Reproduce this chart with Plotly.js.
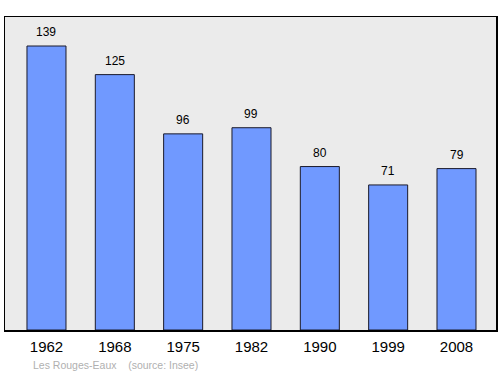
<!DOCTYPE html>
<html><head><meta charset="utf-8">
<script src="https://cdn.plot.ly/plotly-3.0.1.min.js"></script>
<style>html,body{margin:0;padding:0;background:#fff}#c{width:500px;height:374px}</style>
</head><body><div id="c"></div>
<script>
const years = ["1962","1968","1975","1982","1990","1999","2008"];
const population = [139,125,96,99,80,71,79];
const sourceText = "Les Rouges-Eaux    (source: Insee)";

const annotations = years.map((y,i)=>({
  x: i, y: population[i], xref:'x', yref:'y', text: String(population[i]),
  showarrow:false, yanchor:'bottom', yshift:5,
  font:{family:'Liberation Sans, Arial, sans-serif', size:12, color:'#000'}
}));
annotations.push({
  xref:'paper', yref:'paper', x:0.053, y:-0.112, xanchor:'left', yanchor:'middle',
  text: sourceText, showarrow:false,
  font:{family:'Liberation Sans, Arial, sans-serif', size:10.5, color:'#b0b0b0'}
});

Plotly.newPlot('c', [{
  type:'bar', x: years.map((y,i)=>i), y: population, width:0.571,
  marker:{color:'#7099ff', line:{color:'#1a1a2a', width:1}},
  hoverinfo:'none'
}], {
  width:500, height:374,
  margin:{l:5, r:4, t:17, b:44},
  paper_bgcolor:'#fff', plot_bgcolor:'#ebebeb',
  showlegend:false,
  xaxis:{range:[-0.607,6.578], tickmode:'array', tickvals:years.map((y,i)=>i), ticktext:years,
    showgrid:false, zeroline:false, showline:true, mirror:true, linecolor:'#000', linewidth:1.5,
    ticks:'', tickfont:{family:'Liberation Sans, Arial, sans-serif', size:15, color:'#000'}, ticklabelstandoff:2},
  yaxis:{range:[0,153.2], showgrid:false, zeroline:false, showticklabels:false, ticks:'',
    showline:true, mirror:true, linecolor:'#000', linewidth:1.5},
  annotations: annotations
}, {staticPlot:true});
</script></body></html>
